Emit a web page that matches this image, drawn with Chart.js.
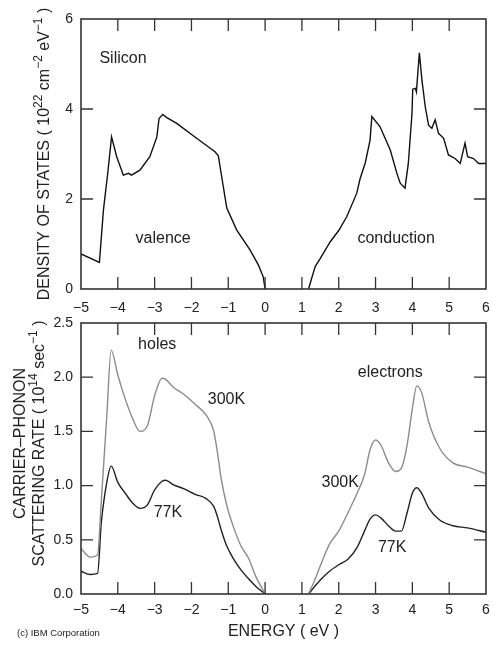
<!DOCTYPE html>
<html>
<head>
<meta charset="utf-8">
<script src="https://cdn.jsdelivr.net/npm/chart.js@4"></script>
<style>
html, body { margin: 0; padding: 0; background: #fff; }
#wrap { position: relative; width: 493px; height: 647px; }
canvas { position: absolute; left: 0; top: 0; }
#copy { position: absolute; left: 17px; top: 627px; font: 9.5px "Liberation Sans", Arial, sans-serif; color: #222; }
</style>
</head>
<body>
<div id="wrap">
  <canvas id="dosChart" width="493" height="647"></canvas>
  <canvas id="rateChart" width="493" height="647"></canvas>
  <div id="copy">(c) IBM Corporation</div>
</div>
<script>
// density of states, valence band
var energyValence = [-5, -4.5, -4.39, -4.27, -4.17, -4.03, -3.85, -3.71, -3.63, -3.4, -3.13, -2.94, -2.88, -2.78, -2.67, -2.4, -1.86, -1.36, -1.27, -1.18, -1.04, -0.77, -0.41, -0.18, -0.05, 0];
var dosValence = [0.78, 0.59, 1.76, 2.6, 3.38, 2.94, 2.53, 2.57, 2.53, 2.64, 2.94, 3.38, 3.79, 3.88, 3.81, 3.68, 3.35, 3.05, 2.96, 2.5, 1.8, 1.31, 0.87, 0.53, 0.27, 0];

// density of states, conduction band
var energyConduction = [1.18, 1.36, 1.5, 1.77, 2.0, 2.22, 2.49, 2.58, 2.72, 2.85, 2.9, 3.12, 3.4, 3.58, 3.67, 3.8, 3.89, 3.99, 4.01, 4.08, 4.11, 4.19, 4.26, 4.35, 4.44, 4.53, 4.62, 4.71, 4.85, 4.98, 5.16, 5.3, 5.43, 5.5, 5.66, 5.8, 6.0];
var dosConduction = [0, 0.5, 0.68, 1.05, 1.3, 1.61, 2.13, 2.45, 2.8, 3.3, 3.83, 3.61, 3.09, 2.57, 2.35, 2.24, 2.79, 3.9, 4.44, 4.46, 4.38, 5.25, 4.64, 4.05, 3.64, 3.57, 3.76, 3.46, 3.35, 2.98, 2.9, 2.79, 3.24, 2.94, 2.9, 2.79, 2.79];

// scattering rate, holes
var energyHoles = [-5, -4.75, -4.55, -4.45, -4.3, -4.18, -4.0, -3.8, -3.6, -3.4, -3.2, -3.0, -2.8, -2.7, -2.5, -2.2, -1.9, -1.6, -1.4, -1.3, -1.2, -1.05, -0.85, -0.65, -0.45, -0.25, 0];
var holes300K = [0.42, 0.34, 0.36, 0.85, 1.64, 2.25, 2.02, 1.8, 1.62, 1.5, 1.55, 1.83, 1.99, 1.98, 1.91, 1.84, 1.75, 1.65, 1.51, 1.32, 1.08, 0.83, 0.61, 0.44, 0.33, 0.16, 0];
var holes77K = [0.21, 0.18, 0.19, 0.65, 1.03, 1.18, 1.03, 0.93, 0.84, 0.79, 0.82, 0.96, 1.04, 1.05, 1.01, 0.97, 0.92, 0.88, 0.81, 0.72, 0.6, 0.45, 0.32, 0.22, 0.14, 0.07, 0];

// scattering rate, electrons
var energyElectrons = [1.18, 1.35, 1.5, 1.75, 2.0, 2.25, 2.5, 2.7, 2.85, 3.0, 3.15, 3.35, 3.55, 3.7, 3.85, 4.0, 4.12, 4.25, 4.45, 4.75, 5.1, 5.5, 6.0];
var electrons300K = [0, 0.13, 0.26, 0.46, 0.58, 0.75, 0.93, 1.1, 1.33, 1.42, 1.37, 1.21, 1.13, 1.16, 1.36, 1.71, 1.92, 1.86, 1.58, 1.34, 1.21, 1.17, 1.11];
var electrons77K = [0, 0.07, 0.13, 0.21, 0.27, 0.32, 0.43, 0.58, 0.69, 0.73, 0.7, 0.63, 0.58, 0.58, 0.74, 0.93, 0.98, 0.93, 0.79, 0.68, 0.63, 0.61, 0.57];

// text placed on the plots, in data units
var dosNotes = [["Silicon", -3.86, 5.11], ["valence", -2.77, 1.11], ["conduction", 3.56, 1.11]];
var rateNotes = [["holes", -2.93, 2.3], ["300K", -1.05, 1.79], ["77K", -2.64, 0.75], ["electrons", 3.4, 2.04], ["300K", 2.04, 1.03], ["77K", 3.45, 0.43]];

// y titles, pieces marked 1 are superscripts
var dosTitle = [["DENSITY OF STATES ( 10"], ["22", 1], [" cm"], ["\u22122", 1], [" eV"], ["\u22121", 1], [" )"]];
var rateTitle1 = [["CARRIER\u2013PHONON"]];
var rateTitle2 = [["SCATTERING RATE ( 10"], ["14", 1], [" sec"], ["\u22121", 1], [" )"]];

var FONT = '"Liberation Sans", Arial, Helvetica, sans-serif';
Chart.defaults.font.family = FONT;
Chart.defaults.color = '#222';

function pts(xs, ys) {
  return xs.map(function (x, i) { return { x: x, y: ys[i] }; });
}

function minus(v) {
  return String(v).replace('-', '\u2212');
}

function noSidePad(s) {
  s.height = s._fixedHeight;
  s.paddingLeft = 0;
  s.paddingRight = 0;
}

// rotated title made of normal and raised pieces, centred on (x, y)
function drawSideTitle(ctx, pieces, x, y) {
  var base = '16px ' + FONT, sup = '12px ' + FONT;
  var w = 0;
  pieces.forEach(function (p) {
    ctx.font = p[1] ? sup : base;
    w += ctx.measureText(p[0]).width;
  });
  ctx.save();
  ctx.translate(x, y);
  ctx.rotate(-Math.PI / 2);
  ctx.textAlign = 'left';
  ctx.textBaseline = 'middle';
  var cx = -w / 2;
  pieces.forEach(function (p) {
    ctx.font = p[1] ? sup : base;
    ctx.fillText(p[0], cx, p[1] ? -6 : 0);
    cx += ctx.measureText(p[0]).width;
  });
  ctx.restore();
}

// box round the plot with ticks pointing inward, plus the notes and side titles
var framePlugin = {
  id: 'frame',
  afterDraw: function (chart, args, opts) {
    var ctx = chart.ctx, a = chart.chartArea;
    var xs = chart.scales.x, ys = chart.scales.y;
    var len = 12;
    ctx.save();
    ctx.strokeStyle = '#333';
    ctx.lineWidth = 1.6;
    ctx.strokeRect(a.left, a.top, a.right - a.left, a.bottom - a.top);
    ctx.lineWidth = 1.3;
    ctx.beginPath();
    xs.ticks.forEach(function (t) {
      if (t.value <= xs.min || t.value >= xs.max) return;
      var px = xs.getPixelForValue(t.value);
      ctx.moveTo(px, a.top); ctx.lineTo(px, a.top + len);
      ctx.moveTo(px, a.bottom); ctx.lineTo(px, a.bottom - len);
    });
    ys.ticks.forEach(function (t) {
      if (t.value <= ys.min || t.value >= ys.max) return;
      var py = ys.getPixelForValue(t.value);
      ctx.moveTo(a.left, py); ctx.lineTo(a.left + len, py);
      ctx.moveTo(a.right, py); ctx.lineTo(a.right - len, py);
    });
    ctx.stroke();

    ctx.fillStyle = '#222';
    ctx.textAlign = 'center';
    ctx.textBaseline = 'middle';
    ctx.font = '16px ' + FONT;
    (opts.notes || []).forEach(function (n) {
      ctx.fillText(n[0], xs.getPixelForValue(n[1]), ys.getPixelForValue(n[2]));
    });

    var cy = (a.top + a.bottom) / 2 + (opts.titleShift || 0);
    (opts.titles || []).forEach(function (t) {
      drawSideTitle(ctx, t[0], t[1], cy);
    });
    ctx.restore();
  }
};

var dosChart = new Chart(document.getElementById('dosChart'), {
  type: 'line',
  data: {
    datasets: [{
      data: pts(energyValence, dosValence),
      label: 'valence',
      borderColor: '#111',
      borderWidth: 1.4,
      pointRadius: 0,
      tension: 0
    },
    {
      data: pts(energyConduction, dosConduction),
      label: 'conduction',
      borderColor: '#111',
      borderWidth: 1.4,
      pointRadius: 0,
      tension: 0
    }]
  },
  options: {
    responsive: false,
    animation: false,
    layout: { padding: { left: 0, right: 7, top: 19, bottom: 328 } },
    plugins: {
      legend: { display: false },
      tooltip: { enabled: false },
      frame: { notes: dosNotes, titles: [[dosTitle, 45]], titleShift: 0 }
    },
    scales: {
      x: {
        type: 'linear',
        min: -5, max: 6,
        grid: { display: false, drawTicks: false },
        border: { display: false },
        ticks: { stepSize: 1, padding: 11, font: { size: 14 }, maxRotation: 0, callback: minus },
        _fixedHeight: 30,
        afterFit: function (s) { s.height = 30; s.paddingLeft = 0; s.paddingRight = 0; }
      },
      y: {
        min: 0, max: 6,
        grid: { display: false, drawTicks: false },
        border: { display: false },
        ticks: { stepSize: 2, padding: 8, font: { size: 14 } },
        afterFit: function (s) { s.width = 81; }
      }
    }
  },
  plugins: [framePlugin]
});

var rateChart = new Chart(document.getElementById('rateChart'), {
  type: 'line',
  data: {
    datasets: [{
      data: pts(energyHoles, holes300K),
      label: '300K holes',
      borderColor: '#8c8c8c',
      borderWidth: 1.4,
      pointRadius: 0,
      cubicInterpolationMode: 'monotone'
    },
    {
      data: pts(energyHoles, holes77K),
      label: '77K holes',
      borderColor: '#222',
      borderWidth: 1.4,
      pointRadius: 0,
      cubicInterpolationMode: 'monotone'
    },
    {
      data: pts(energyElectrons, electrons300K),
      label: '300K electrons',
      borderColor: '#8c8c8c',
      borderWidth: 1.4,
      pointRadius: 0,
      cubicInterpolationMode: 'monotone'
    },
    {
      data: pts(energyElectrons, electrons77K),
      label: '77K electrons',
      borderColor: '#222',
      borderWidth: 1.4,
      pointRadius: 0,
      cubicInterpolationMode: 'monotone'
    }]
  },
  options: {
    responsive: false,
    animation: false,
    layout: { padding: { left: 0, right: 7, top: 323, bottom: 3 } },
    plugins: {
      legend: { display: false },
      tooltip: { enabled: false },
      frame: { notes: rateNotes, titles: [[rateTitle1, 21], [rateTitle2, 40]], titleShift: -15 }
    },
    scales: {
      x: {
        type: 'linear',
        min: -5, max: 6,
        grid: { display: false, drawTicks: false },
        border: { display: false },
        ticks: { stepSize: 1, padding: 8, font: { size: 14 }, maxRotation: 0, callback: minus },
        title: {
          display: true,
          text: 'ENERGY ( eV )',
          font: { size: 16 },
          padding: { top: 0, bottom: 3 }
        },
        afterFit: function (s) { s.height = 50; s.paddingLeft = 0; s.paddingRight = 0; }
      },
      y: {
        min: 0, max: 2.5,
        grid: { display: false, drawTicks: false },
        border: { display: false },
        ticks: { stepSize: 0.5, padding: 8, font: { size: 14 }, callback: function (v) { return v.toFixed(1); } },
        afterFit: function (s) { s.width = 81; }
      }
    }
  },
  plugins: [framePlugin]
});
</script>
</body>
</html>
